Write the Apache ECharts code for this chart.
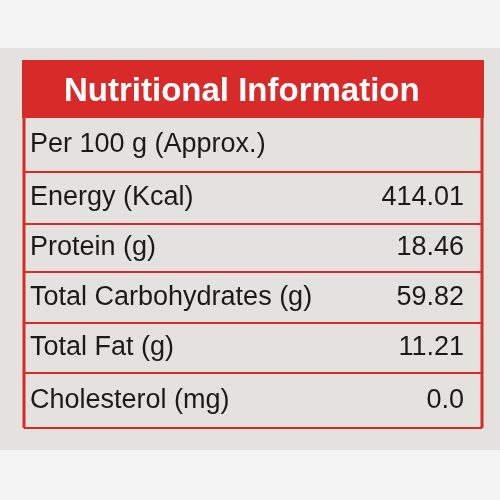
<!DOCTYPE html>
<html>
<head>
<meta charset="utf-8">
<script src="https://cdn.jsdelivr.net/npm/echarts@6/dist/echarts.min.js"></script>
<style>html,body{margin:0;padding:0;background:#f4f4f4}#main{width:500px;height:500px}</style>
</head>
<body>
<div id="main"></div>
<script>
var title = 'Nutritional Information';
var rowLabels = ['Per 100 g (Approx.)', 'Energy (Kcal)', 'Protein (g)', 'Total Carbohydrates (g)', 'Total Fat (g)', 'Cholesterol (mg)'];
var rowValues = ['', '414.01', '18.46', '59.82', '11.21', '0.0'];
var rowTops = [118, 172, 224, 272, 323, 373, 428];

var red = '#d92a2a';
var font = '"Liberation Sans Narrow", "Liberation Sans", sans-serif';

var myChart = echarts.init(document.getElementById('main'));

function buildGraphic() {
    var g = [];
    // paper
    g.push({ type: 'rect', shape: { x: 0, y: 48, width: 500, height: 402 }, style: { fill: '#e4e2df' } });
    // header band
    g.push({ type: 'rect', shape: { x: 22, y: 60, width: 462, height: rowTops[0] - 60 }, style: { fill: red } });
    g.push({ type: 'text', x: 64, y: 92, style: { text: title, fill: '#fff', font: 'bold 33px ' + font, verticalAlign: 'middle' } });
    // rows
    for (var i = 0; i < rowLabels.length; i++) {
        var mid = (rowTops[i] + rowTops[i + 1]) / 2;
        g.push({ type: 'text', x: 30, y: mid, style: { text: rowLabels[i], fill: '#1a1a1a', font: '27px ' + font, verticalAlign: 'middle' } });
        if (rowValues[i] !== '') {
            g.push({ type: 'text', x: 464, y: mid, style: { text: rowValues[i], fill: '#1a1a1a', font: '27px ' + font, align: 'right', verticalAlign: 'middle' } });
        }
        g.push({ type: 'line', shape: { x1: 24, y1: rowTops[i + 1], x2: 482, y2: rowTops[i + 1] }, style: { stroke: red, lineWidth: 2 } });
    }
    g.push({ type: 'line', shape: { x1: 24, y1: rowTops[0], x2: 24, y2: rowTops[rowTops.length - 1] }, style: { stroke: red, lineWidth: 3 } });
    g.push({ type: 'line', shape: { x1: 482, y1: rowTops[0], x2: 482, y2: rowTops[rowTops.length - 1] }, style: { stroke: red, lineWidth: 3 } });
    return g;
}

myChart.setOption({
    backgroundColor: '#f4f4f4',
    animation: false,
    graphic: buildGraphic()
});
</script>
</body>
</html>
